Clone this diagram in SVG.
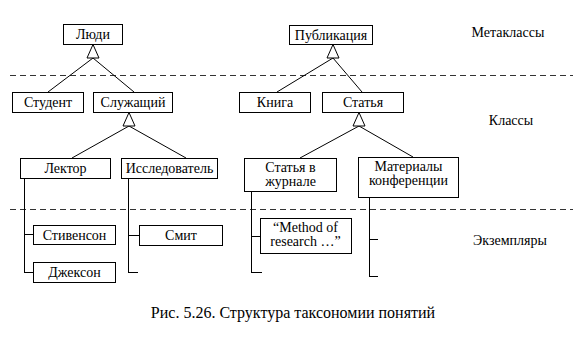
<svg xmlns="http://www.w3.org/2000/svg" width="585" height="339" viewBox="0 0 585 339">
<style>
rect.n{fill:#fff;stroke:#000;stroke-width:1}
.c line{stroke:#000;stroke-width:1;fill:none}
.c polygon{fill:#fff;stroke:#000;stroke-width:1}
.d{stroke:#333;stroke-width:1;stroke-dasharray:6,4}
</style>
<rect width="585" height="339" fill="#fff"/>
<line class="d" x1="10" y1="75.5" x2="573" y2="75.5"/>
<line class="d" x1="10" y1="209.5" x2="573" y2="209.5"/>
<g class="c" id="connectors">
<line x1="93" y1="58" x2="48" y2="92"/>
<line x1="93" y1="58" x2="134" y2="92"/>
<polygon points="93,44.5 87,58 99,58"/>
<line x1="129" y1="126" x2="72" y2="158"/>
<line x1="129" y1="126" x2="186" y2="158"/>
<polygon points="129,112.5 123,126 135,126"/>
<line x1="333" y1="58" x2="277" y2="92"/>
<line x1="333" y1="58" x2="362" y2="92"/>
<polygon points="333,44.5 327,58 339,58"/>
<line x1="359" y1="126" x2="300" y2="158"/>
<line x1="359" y1="126" x2="413" y2="157"/>
<polygon points="359,112.5 353,126 365,126"/>
<line x1="24.5" y1="178" x2="24.5" y2="272.5"/>
<line x1="24" y1="234.5" x2="33" y2="234.5"/>
<line x1="24" y1="272.5" x2="33" y2="272.5"/>
<line x1="128.5" y1="178" x2="128.5" y2="272.5"/>
<line x1="128" y1="235.5" x2="139" y2="235.5"/>
<line x1="128" y1="272.5" x2="138" y2="272.5"/>
<line x1="251.5" y1="191" x2="251.5" y2="272.5"/>
<line x1="251" y1="236.5" x2="260" y2="236.5"/>
<line x1="251" y1="272.5" x2="262" y2="272.5"/>
<line x1="369.5" y1="197" x2="369.5" y2="276.5"/>
<line x1="369" y1="239.5" x2="378" y2="239.5"/>
<line x1="369" y1="276.5" x2="378" y2="276.5"/>
</g>
<g id="lyudi"><rect class="n" x="63.5" y="24.5" width="59" height="20"/><text x="93" y="39" text-anchor="middle" font-family="serif" font-size="14">Люди</text></g>
<g id="student"><rect class="n" x="12.5" y="92.5" width="71" height="20"/><text x="48" y="107" text-anchor="middle" font-family="serif" font-size="14">Студент</text></g>
<g id="sluzhashchiy"><rect class="n" x="93.5" y="92.5" width="79" height="20"/><text x="133" y="107" text-anchor="middle" font-family="serif" font-size="14">Служащий</text></g>
<g id="lektor"><rect class="n" x="20.5" y="158.5" width="90" height="20"/><text x="65.5" y="173" text-anchor="middle" font-family="serif" font-size="14">Лектор</text></g>
<g id="issledovatel"><rect class="n" x="121.5" y="158.5" width="96" height="20"/><text x="169.5" y="173" text-anchor="middle" font-family="serif" font-size="14">Исследователь</text></g>
<g id="stivenson"><rect class="n" x="33.5" y="225.5" width="82" height="19"/><text x="74.5" y="240" text-anchor="middle" font-family="serif" font-size="14">Стивенсон</text></g>
<g id="jackson"><rect class="n" x="33.5" y="262.5" width="82" height="20"/><text x="74.5" y="277" text-anchor="middle" font-family="serif" font-size="14">Джексон</text></g>
<g id="smit"><rect class="n" x="139.5" y="225.5" width="83" height="20"/><text x="181" y="240" text-anchor="middle" font-family="serif" font-size="14">Смит</text></g>
<g id="publikaciya"><rect class="n" x="289.5" y="25.5" width="83" height="19"/><text x="331" y="40" text-anchor="middle" font-family="serif" font-size="14">Публикация</text></g>
<g id="kniga"><rect class="n" x="239.5" y="92.5" width="71" height="20"/><text x="275" y="107" text-anchor="middle" font-family="serif" font-size="14">Книга</text></g>
<g id="statya"><rect class="n" x="322.5" y="92.5" width="81" height="20"/><text x="363" y="107" text-anchor="middle" font-family="serif" font-size="14">Статья</text></g>
<g id="statya-v-zhurnale"><rect class="n" x="244.5" y="158.5" width="92" height="33"/><text x="290.5" y="172" text-anchor="middle" font-family="serif" font-size="14">Статья в</text><text x="290.5" y="186" text-anchor="middle" font-family="serif" font-size="14">журнале</text></g>
<g id="materialy"><rect class="n" x="358.5" y="157.5" width="100" height="40"/><text x="408.5" y="171" text-anchor="middle" font-family="serif" font-size="14">Материалы</text><text x="408.5" y="185" text-anchor="middle" font-family="serif" font-size="14">конференции</text></g>
<g id="method"><rect class="n" x="260.5" y="218.5" width="91" height="35"/><text x="305.5" y="232" text-anchor="middle" font-family="serif" font-size="14">“Method of</text><text x="305.5" y="246" text-anchor="middle" font-family="serif" font-size="14">research …”</text></g>
<text x="508" y="37" text-anchor="middle" font-family="serif" font-size="14">Метаклассы</text>
<text x="511" y="125" text-anchor="middle" font-family="serif" font-size="14">Классы</text>
<text x="510" y="245" text-anchor="middle" font-family="serif" font-size="14">Экземпляры</text>
<text x="293" y="318" text-anchor="middle" font-family="serif" font-size="16">Рис. 5.26. Структура таксономии понятий</text>
</svg>
